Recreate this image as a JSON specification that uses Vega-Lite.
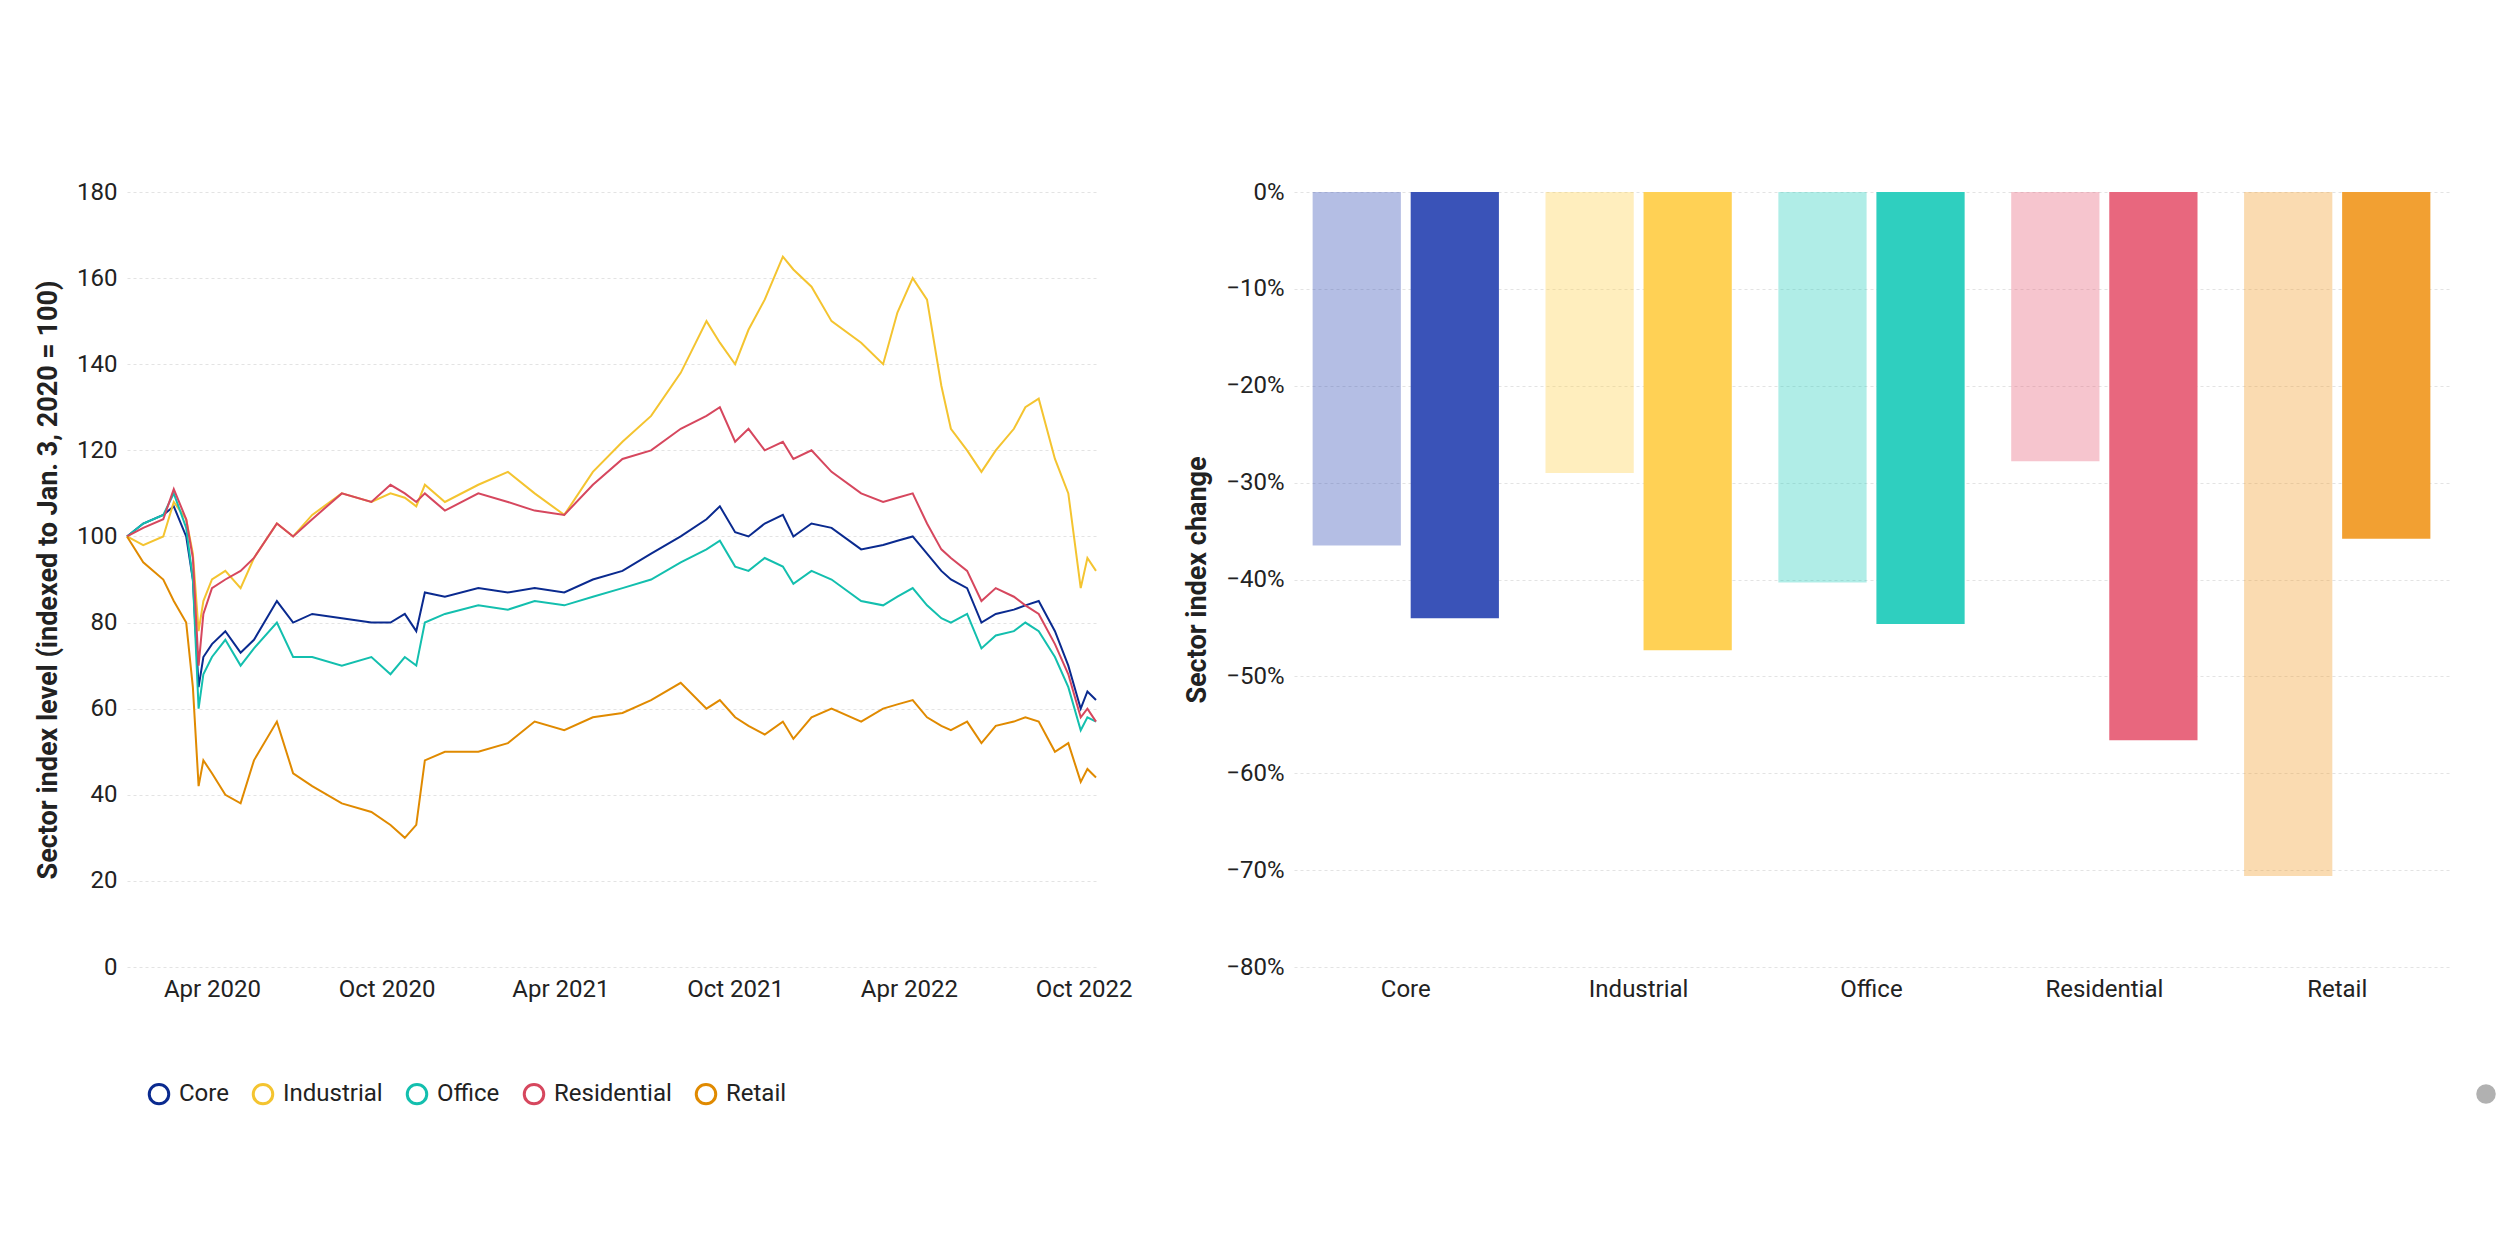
{
  "$schema": "https://vega.github.io/schema/vega-lite/v6.json",
  "background": "white",
  "padding": {"left": 34, "top": 180, "right": 20, "bottom": 20},
  "config": {
    "font": "Roboto",
    "view": {"stroke": null},
    "axis": {"labelFontSize": 24, "titleFontSize": 27, "labelColor": "#222", "titleColor": "#222", "gridColor": "#e3e3e3", "gridDash": [3, 3], "domain": false, "ticks": false, "labelPadding": 10},
    "legend": {"labelFontSize": 24, "labelColor": "#222", "symbolSize": 380, "symbolStrokeWidth": 3, "columnPadding": 18, "labelOffset": 8, "labelLimit": 0}
  },
  "hconcat": [
    {
      "width": 969,
      "height": 775,
      "data": {"values": [
        {"d":"2020-01-03","Core":100,"Industrial":100,"Office":100,"Residential":100,"Retail":100},
        {"d":"2020-01-20","Core":103,"Industrial":98,"Office":103,"Residential":102,"Retail":94},
        {"d":"2020-02-10","Core":105,"Industrial":100,"Office":105,"Residential":104,"Retail":90},
        {"d":"2020-02-21","Core":107,"Industrial":108,"Office":110,"Residential":111,"Retail":85},
        {"d":"2020-03-05","Core":100,"Industrial":104,"Office":102,"Residential":104,"Retail":80},
        {"d":"2020-03-12","Core":90,"Industrial":96,"Office":90,"Residential":95,"Retail":65},
        {"d":"2020-03-18","Core":65,"Industrial":78,"Office":60,"Residential":70,"Retail":42},
        {"d":"2020-03-23","Core":72,"Industrial":85,"Office":68,"Residential":82,"Retail":48},
        {"d":"2020-04-01","Core":75,"Industrial":90,"Office":72,"Residential":88,"Retail":45},
        {"d":"2020-04-15","Core":78,"Industrial":92,"Office":76,"Residential":90,"Retail":40},
        {"d":"2020-05-01","Core":73,"Industrial":88,"Office":70,"Residential":92,"Retail":38},
        {"d":"2020-05-15","Core":76,"Industrial":95,"Office":74,"Residential":95,"Retail":48},
        {"d":"2020-06-08","Core":85,"Industrial":103,"Office":80,"Residential":103,"Retail":57},
        {"d":"2020-06-25","Core":80,"Industrial":100,"Office":72,"Residential":100,"Retail":45},
        {"d":"2020-07-15","Core":82,"Industrial":105,"Office":72,"Residential":104,"Retail":42},
        {"d":"2020-08-15","Core":81,"Industrial":110,"Office":70,"Residential":110,"Retail":38},
        {"d":"2020-09-15","Core":80,"Industrial":108,"Office":72,"Residential":108,"Retail":36},
        {"d":"2020-10-05","Core":80,"Industrial":110,"Office":68,"Residential":112,"Retail":33},
        {"d":"2020-10-20","Core":82,"Industrial":109,"Office":72,"Residential":110,"Retail":30},
        {"d":"2020-11-01","Core":78,"Industrial":107,"Office":70,"Residential":108,"Retail":33},
        {"d":"2020-11-10","Core":87,"Industrial":112,"Office":80,"Residential":110,"Retail":48},
        {"d":"2020-12-01","Core":86,"Industrial":108,"Office":82,"Residential":106,"Retail":50},
        {"d":"2021-01-05","Core":88,"Industrial":112,"Office":84,"Residential":110,"Retail":50},
        {"d":"2021-02-05","Core":87,"Industrial":115,"Office":83,"Residential":108,"Retail":52},
        {"d":"2021-03-05","Core":88,"Industrial":110,"Office":85,"Residential":106,"Retail":57},
        {"d":"2021-04-05","Core":87,"Industrial":105,"Office":84,"Residential":105,"Retail":55},
        {"d":"2021-05-05","Core":90,"Industrial":115,"Office":86,"Residential":112,"Retail":58},
        {"d":"2021-06-05","Core":92,"Industrial":122,"Office":88,"Residential":118,"Retail":59},
        {"d":"2021-07-05","Core":96,"Industrial":128,"Office":90,"Residential":120,"Retail":62},
        {"d":"2021-08-05","Core":100,"Industrial":138,"Office":94,"Residential":125,"Retail":66},
        {"d":"2021-09-01","Core":104,"Industrial":150,"Office":97,"Residential":128,"Retail":60},
        {"d":"2021-09-15","Core":107,"Industrial":145,"Office":99,"Residential":130,"Retail":62},
        {"d":"2021-10-01","Core":101,"Industrial":140,"Office":93,"Residential":122,"Retail":58},
        {"d":"2021-10-15","Core":100,"Industrial":148,"Office":92,"Residential":125,"Retail":56},
        {"d":"2021-11-01","Core":103,"Industrial":155,"Office":95,"Residential":120,"Retail":54},
        {"d":"2021-11-20","Core":105,"Industrial":165,"Office":93,"Residential":122,"Retail":57},
        {"d":"2021-12-01","Core":100,"Industrial":162,"Office":89,"Residential":118,"Retail":53},
        {"d":"2021-12-20","Core":103,"Industrial":158,"Office":92,"Residential":120,"Retail":58},
        {"d":"2022-01-10","Core":102,"Industrial":150,"Office":90,"Residential":115,"Retail":60},
        {"d":"2022-02-10","Core":97,"Industrial":145,"Office":85,"Residential":110,"Retail":57},
        {"d":"2022-03-05","Core":98,"Industrial":140,"Office":84,"Residential":108,"Retail":60},
        {"d":"2022-03-20","Core":99,"Industrial":152,"Office":86,"Residential":109,"Retail":61},
        {"d":"2022-04-05","Core":100,"Industrial":160,"Office":88,"Residential":110,"Retail":62},
        {"d":"2022-04-20","Core":96,"Industrial":155,"Office":84,"Residential":103,"Retail":58},
        {"d":"2022-05-05","Core":92,"Industrial":135,"Office":81,"Residential":97,"Retail":56},
        {"d":"2022-05-15","Core":90,"Industrial":125,"Office":80,"Residential":95,"Retail":55},
        {"d":"2022-06-01","Core":88,"Industrial":120,"Office":82,"Residential":92,"Retail":57},
        {"d":"2022-06-16","Core":80,"Industrial":115,"Office":74,"Residential":85,"Retail":52},
        {"d":"2022-07-01","Core":82,"Industrial":120,"Office":77,"Residential":88,"Retail":56},
        {"d":"2022-07-20","Core":83,"Industrial":125,"Office":78,"Residential":86,"Retail":57},
        {"d":"2022-08-01","Core":84,"Industrial":130,"Office":80,"Residential":84,"Retail":58},
        {"d":"2022-08-15","Core":85,"Industrial":132,"Office":78,"Residential":82,"Retail":57},
        {"d":"2022-09-01","Core":78,"Industrial":118,"Office":72,"Residential":75,"Retail":50},
        {"d":"2022-09-15","Core":70,"Industrial":110,"Office":65,"Residential":68,"Retail":52},
        {"d":"2022-09-28","Core":60,"Industrial":88,"Office":55,"Residential":58,"Retail":43},
        {"d":"2022-10-05","Core":64,"Industrial":95,"Office":58,"Residential":60,"Retail":46},
        {"d":"2022-10-14","Core":62,"Industrial":92,"Office":57,"Residential":57,"Retail":44}
      ]},
      "transform": [{"fold": ["Core", "Industrial", "Office", "Residential", "Retail"], "as": ["sector", "value"]}],
      "mark": {"type": "line", "strokeWidth": 2},
      "encoding": {
        "x": {"field": "d", "type": "temporal", "title": null,
          "scale": {"domain": ["2020-01-03", "2022-10-14"]},
          "axis": {"format": "%b %Y", "grid": false, "labelFlush": false,
            "values": ["2020-04-01", "2020-10-01", "2021-04-01", "2021-10-01", "2022-04-01", "2022-10-01"]}},
        "y": {"field": "value", "type": "quantitative", "title": "Sector index level (indexed to Jan. 3, 2020 = 100)",
          "scale": {"domain": [0, 180], "nice": false}, "axis": {"values": [0, 20, 40, 60, 80, 100, 120, 140, 160, 180], "titlePadding": 14}},
        "color": {"field": "sector", "type": "nominal",
          "scale": {"domain": ["Core", "Industrial", "Office", "Residential", "Retail"], "range": ["#0a2a8f", "#f4c430", "#13bfae", "#d6475e", "#e08a00"]},
          "legend": {"title": null, "orient": "none", "direction": "horizontal", "legendX": 20, "legendY": 890, "symbolType": "circle", "symbolFillColor": "white"}}
      }
    },
    {
      "width": 1155,
      "height": 775,
      "data": {"values": [
        {"sector": "Core", "period": "From Jan 2020 to 2020 trough", "change": -0.365},
        {"sector": "Core", "period": "From peak 2021 to 2022 low", "change": -0.44},
        {"sector": "Industrial", "period": "From Jan 2020 to 2020 trough", "change": -0.29},
        {"sector": "Industrial", "period": "From peak 2021 to 2022 low", "change": -0.473},
        {"sector": "Office", "period": "From Jan 2020 to 2020 trough", "change": -0.403},
        {"sector": "Office", "period": "From peak 2021 to 2022 low", "change": -0.446},
        {"sector": "Residential", "period": "From Jan 2020 to 2020 trough", "change": -0.278},
        {"sector": "Residential", "period": "From peak 2021 to 2022 low", "change": -0.566},
        {"sector": "Retail", "period": "From Jan 2020 to 2020 trough", "change": -0.706},
        {"sector": "Retail", "period": "From peak 2021 to 2022 low", "change": -0.358}
      ]},
      "mark": {"type": "bar"},
      "encoding": {
        "x": {"field": "sector", "type": "nominal", "title": null, "sort": null,
          "scale": {"paddingInner": 0.2, "paddingOuter": 0.08}, "axis": {"labelAngle": 0, "grid": false}},
        "xOffset": {"field": "period", "type": "nominal", "scale": {"paddingInner": 0.1}},
        "y": {"field": "change", "type": "quantitative", "title": "Sector index change",
          "scale": {"domain": [-0.8, 0], "nice": false}, "axis": {"format": ".0%", "tickCount": 8, "titlePadding": 14}},
        "color": {"field": "sector", "type": "nominal", "legend": null,
          "scale": {"domain": ["Core", "Industrial", "Office", "Residential", "Retail"], "range": ["#3a53b8", "#ffd155", "#2fcfbf", "#e8677e", "#f2a032"]}},
        "opacity": {"field": "period", "type": "nominal",
          "scale": {"range": [0.38, 1]},
          "legend": {"title": null, "orient": "none", "direction": "horizontal", "legendX": 1180, "legendY": 890, "symbolType": "circle", "symbolFillColor": "#333", "symbolStrokeWidth": 0}}
      }
    }
  ],
  "spacing": 50,
  "resolve": {"scale": {"color": "independent", "x": "independent", "y": "independent"}, "legend": {"color": "independent", "opacity": "independent"}}
}
